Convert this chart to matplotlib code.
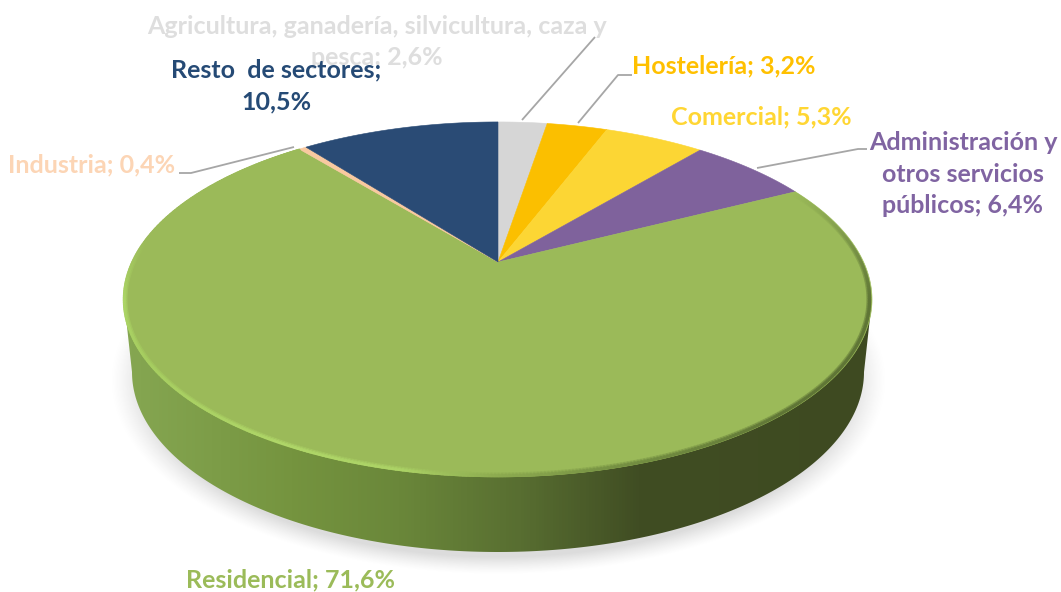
import numpy as np
import matplotlib
matplotlib.use("Agg")
import matplotlib.pyplot as plt
from matplotlib.collections import LineCollection
from matplotlib.colors import LinearSegmentedColormap, to_rgb
from matplotlib.patches import Polygon
from matplotlib.path import Path
from matplotlib.transforms import Transform

sectors = ["Agricultura, ganadería, silvicultura, caza y\npesca", "Hostelería", "Comercial",
           "Administración y\notros servicios\npúblicos", "Residencial", "Industria",
           "Resto  de sectores;\n"]
values = [2.6, 3.2, 5.3, 6.4, 71.6, 0.4, 10.5]
value_labels = ["2,6%", "3,2%", "5,3%", "6,4%", "71,6%", "0,4%", "10,5%"]
slice_colors = ["#D6D6D6", "#FBBF00", "#FCD634", "#7F629C", "#9BBA59", "#F9C9A0", "#2A4B75"]
label_colors = ["#DEDEDE", "#FFC000", "#FFD633", "#8064A2", "#9BBB59", "#FCD5B5", "#254A75"]
label_pos = [(377, 42), (724, 66), (761, 117), (963, 174), (291, 580), (92, 165), (276, 86)]

W, H = 1061, 592
CX, APEX_Y = 498, 262
A, B, K = 365.6, 169.6, 0.211
ELL_CY, ELL_A, ELL_B = 299.5, 374, 177.5
BOT_CY, BOT_A, BOT_B = 372, 366, 180


class DiskProjection(Transform):
    """Perspective view of the unit pie disk, in pixel coordinates."""
    input_dims = output_dims = 2
    is_affine = False
    has_inverse = False

    def transform_non_affine(self, pts):
        pts = np.asarray(pts, float)
        d = 1 + K * pts[:, 1]
        return np.column_stack([CX + A * pts[:, 0] / d, APEX_Y - B * pts[:, 1] / d])

    def transform_path_non_affine(self, path):
        samples = []
        for seg, code in path.iter_bezier():
            if code == Path.MOVETO:
                samples.append(seg.control_points[-1][None, :])
            else:
                samples.append(seg(np.linspace(0, 1, 60)[1:]))
        return Path(self.transform_non_affine(np.vstack(samples)))


fig = plt.figure(figsize=(W / 100, H / 100), dpi=100, facecolor="white")
ax = fig.add_axes([0, 0, 1, 1])

wedges, _ = ax.pie(values, colors=slice_colors, startangle=90, counterclock=False, radius=1)
proj = DiskProjection() + ax.transData
for w, c in zip(wedges, slice_colors):
    w.set_transform(proj)
    w.set_edgecolor(c)
    w.set_linewidth(0.4)
    w.set_zorder(5)

# soft shadow
yy, xx = np.mgrid[0:H, 0:W]
r = np.sqrt(((xx - 498) / 388) ** 2 + ((yy - 380) / 194) ** 2)
alpha = 0.30 * np.clip((1.0 - r) / 0.09, 0, 1) ** 1.3 * np.clip((yy - 290) / 60, 0, 1)
shadow = np.zeros((H, W, 4))
shadow[..., :3] = 0.55
shadow[..., 3] = alpha
ax.imshow(shadow, extent=(0, W, H, 0), zorder=1, interpolation="bilinear", aspect="auto")

# side wall
t = np.radians(np.linspace(180, 0, 200))
wall = np.column_stack([CX + BOT_A * np.cos(t), BOT_CY + BOT_B * np.sin(t)])
wall = np.vstack([[CX - ELL_A, ELL_CY], wall, [CX + ELL_A, ELL_CY]])
stops = [(120, "#86A752"), (290, "#75943F"), (400, "#6A873A"), (520, "#586E31"),
         (640, "#404D23"), (880, "#3E4A21")]
cmap = LinearSegmentedColormap.from_list("side", [((x - 120) / 760, c) for x, c in stops])
im = ax.imshow(np.linspace(0, 1, 760)[None, :], extent=(120, 880, 560, 290), cmap=cmap,
               zorder=2, aspect="auto")
im.set_clip_path(Polygon(wall, closed=True, transform=ax.transData))

# bevel on the rim of the big slice
rim_t = np.array([-37, -20, 0, 40, 70, 90, 105, 125, 160, 180, 200, 238])
rim_c = ["#9BBA59", "#7D9849", "#5F7536", "#5F7536", "#748F42", "#8DAB50", "#ACD366",
         "#AFD668", "#A6CD60", "#ACD566", "#9BBA59", "#9BBA59"]
rim_rgb = np.array([to_rgb(c) for c in rim_c])
ts = np.linspace(-37, 238, 500)
cols = np.column_stack([np.interp(ts, rim_t, rim_rgb[:, i]) for i in range(3)])
for inset, lw, a in [(3.2, 2.0, 0.3), (2.0, 1.6, 0.65), (0.9, 1.6, 1.0)]:
    rad = np.radians(ts)
    pts = np.column_stack([CX - 1 + (ELL_A - inset) * np.cos(rad),
                           ELL_CY + (ELL_B - inset) * np.sin(rad)])
    segs = np.stack([pts[:-1], pts[1:]], axis=1)
    lc = LineCollection(segs, colors=np.column_stack([cols[:-1], np.full(len(segs), a)]),
                        linewidths=lw, zorder=6, capstyle="round")
    ax.add_collection(lc)

# leader lines
leaders = [[(522, 120), (595, 37)], [(578, 123), (618, 75), (632, 75)],
           [(757, 168), (858, 149), (867, 149)], [(179, 173), (191, 173), (294, 147)]]
for ln in leaders:
    xs, ys = zip(*ln)
    ax.plot(xs, ys, color="#A6A6A6", lw=1.3, zorder=7, solid_capstyle="butt")

# labels
for s, v, c, p in zip(sectors, value_labels, label_colors, label_pos):
    txt = f"{s}{v}" if s.endswith("\n") else f"{s}; {v}"
    ax.text(p[0], p[1], txt, color=c, ha="center", va="center", family="Lato",
            fontweight="bold", fontsize=18, linespacing=1.45, zorder=8,
            multialignment="center")

ax.set_aspect("auto")
ax.set_xlim(0, W)
ax.set_ylim(H, 0)
ax.axis("off")
fig.savefig("out.png", dpi=100, facecolor="white")
